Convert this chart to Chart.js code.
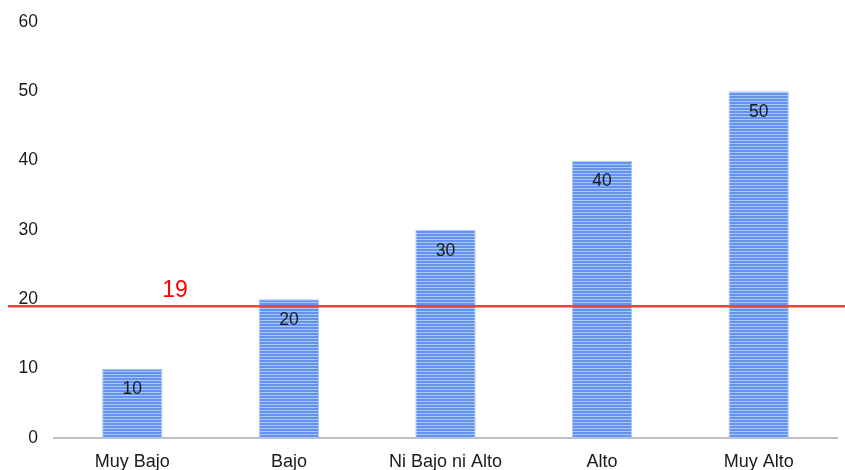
<!DOCTYPE html>
<html>
<head>
<meta charset="utf-8">
<script src="https://cdn.jsdelivr.net/npm/chart.js@4/dist/chart.umd.min.js"></script>
<style>
  html, body { margin: 0; padding: 0; background: #ffffff; }
  #wrap { width: 845px; height: 470px; }
</style>
</head>
<body>
<div id="wrap"><canvas id="chart" width="845" height="470"></canvas></div>
<script>
// Categories and values
const categories = ['Muy Bajo', 'Bajo', 'Ni Bajo ni Alto', 'Alto', 'Muy Alto'];
const values = [10, 20, 30, 40, 50];
const referenceValue = 19;
const yTicks = [0, 10, 20, 30, 40, 50, 60];

const FONT = "'Liberation Sans', Arial, sans-serif";

// Horizontal striped fill for the bars
function stripePattern() {
  const c = document.createElement('canvas');
  c.width = 4; c.height = 3;
  const g = c.getContext('2d');
  g.fillStyle = '#6393ef';
  g.fillRect(0, 0, 4, 2);
  g.fillStyle = '#abc7f8';
  g.fillRect(0, 2, 4, 1);
  return g.createPattern(c, 'repeat');
}

// Value labels just inside the top of each bar
const valueLabels = {
  id: 'valueLabels',
  afterDatasetsDraw(chart) {
    const ctx = chart.ctx;
    const meta = chart.getDatasetMeta(0);
    ctx.save();
    ctx.font = '17.5px ' + FONT;
    ctx.fillStyle = '#1a1a1a';
    ctx.textAlign = 'center';
    ctx.textBaseline = 'middle';
    meta.data.forEach((bar, i) => {
      ctx.fillText(String(values[i]), bar.x, bar.y + 21);
    });
    ctx.restore();
  }
};

// Red reference line across the full width with its value
const referenceLine = {
  id: 'referenceLine',
  afterDatasetsDraw(chart) {
    const ctx = chart.ctx;
    const y = chart.scales.y.getPixelForValue(referenceValue);
    ctx.save();
    ctx.strokeStyle = '#e8463a';
    ctx.lineWidth = 2.5;
    ctx.beginPath();
    ctx.moveTo(8, y);
    ctx.lineTo(chart.width, y);
    ctx.stroke();
    ctx.font = '23px ' + FONT;
    ctx.fillStyle = '#ff0000';
    ctx.textAlign = 'center';
    ctx.textBaseline = 'middle';
    ctx.fillText(String(referenceValue), 175, y - 16);
    ctx.restore();
  }
};

new Chart(document.getElementById('chart'), {
  type: 'bar',
  data: {
    labels: categories,
    datasets: [{
      data: values,
      backgroundColor: stripePattern(),
      borderColor: 'rgba(160,192,248,0.9)',
      borderWidth: 1,
      barPercentage: 0.77,
      categoryPercentage: 0.5
    }]
  },
  options: {
    responsive: false,
    animation: false,
    layout: { padding: { top: 22, right: 8, left: 0, bottom: 0 } },
    plugins: {
      legend: { display: false },
      tooltip: { enabled: false }
    },
    scales: {
      x: {
        afterFit(scale) { scale.height = 32; },
        grid: { display: false, drawTicks: false },
        border: { display: true, color: '#c0c0c0', width: 2 },
        ticks: { color: '#1a1a1a', font: { family: FONT, size: 18 }, padding: 13, maxRotation: 0 }
      },
      y: {
        min: 0,
        max: 60,
        afterBuildTicks(scale) { scale.ticks = yTicks.map(v => ({ value: v })); },
        afterFit(scale) { scale.width = 54; scale.paddingTop = 0; scale.paddingBottom = 0; },
        grid: { display: false, drawTicks: false },
        border: { display: false },
        ticks: { color: '#1a1a1a', font: { family: FONT, size: 17.5 }, padding: 16 }
      }
    }
  },
  plugins: [valueLabels, referenceLine]
});
</script>
</body>
</html>
